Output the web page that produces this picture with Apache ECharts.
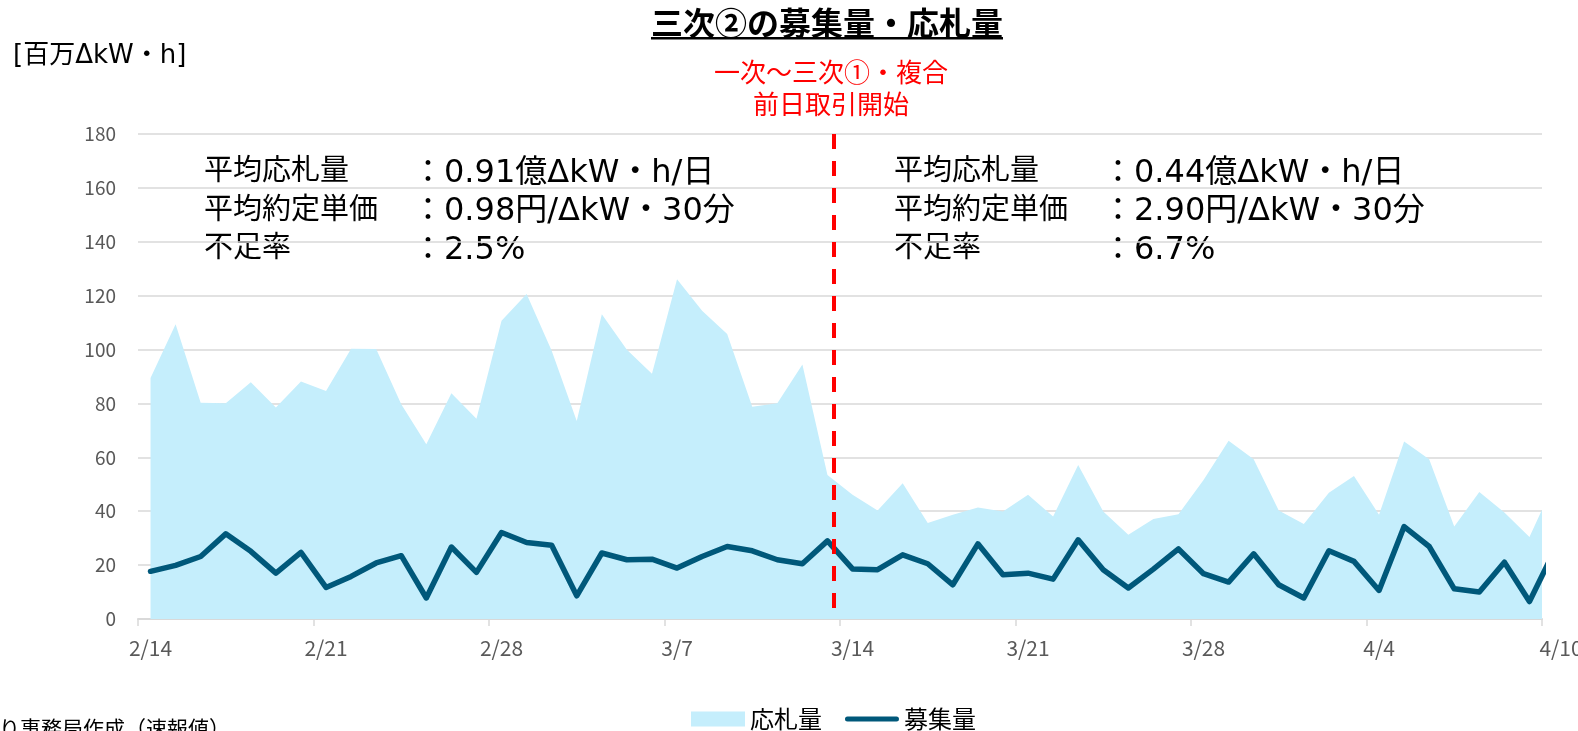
<!DOCTYPE html>
<html>
<head>
<meta charset="utf-8">
<script src="https://cdn.jsdelivr.net/npm/echarts@6/dist/echarts.min.js"></script>
<style>
  html, body { margin: 0; padding: 0; background: #fff; }
  #chart { width: 1578px; height: 731px; }
</style>
</head>
<body>
<div id="chart"></div>
<script>
  var FONT = "'Noto Sans CJK JP', 'Noto Sans', sans-serif";
  var WIDE = "'DejaVu Sans', 'Noto Sans CJK JP', sans-serif";

  // daily dates, 2/14 - 4/11 (the last one is cut off by the plot edge)
  var dates = [
    '2/14', '2/15', '2/16', '2/17', '2/18', '2/19', '2/20', '2/21', '2/22', '2/23', '2/24', '2/25', '2/26', '2/27', '2/28',
    '3/1', '3/2', '3/3', '3/4', '3/5', '3/6', '3/7', '3/8', '3/9', '3/10', '3/11', '3/12', '3/13', '3/14', '3/15',
    '3/16', '3/17', '3/18', '3/19', '3/20', '3/21', '3/22', '3/23', '3/24', '3/25', '3/26', '3/27', '3/28', '3/29',
    '3/30', '3/31', '4/1', '4/2', '4/3', '4/4', '4/5', '4/6', '4/7', '4/8', '4/9', '4/10', '4/11'
  ];

  // 応札量 [百万ΔkW・h]
  var bidVolume = [
    89.4, 109.4, 80.3, 80.1, 87.9, 78.5, 88.1, 84.6, 100.3, 100.2, 79.7, 64.9, 83.8, 74.3,
    110.7, 120.6, 99.6, 73.5, 113.1, 99.9, 91.0, 126.1, 114.4, 105.8, 78.8, 80.1, 94.5, 53.4,
    46.1, 40.3, 50.4, 35.6, 38.7, 41.4, 39.9, 46.1, 38.0, 57.2, 39.9, 31.3, 37.1, 38.9,
    51.6, 66.2, 59.3, 40.3, 35.3, 46.9, 53.1, 38.7, 65.9, 59.3, 34.3, 47.1, 39.5, 30.4, 50.7
  ];

  // 募集量 [百万ΔkW・h]
  var recruitVolume = [
    17.7, 19.9, 23.2, 31.6, 25.1, 17.0, 24.7, 11.7, 15.8, 20.8, 23.5, 7.8, 26.7, 17.3,
    32.1, 28.4, 27.4, 8.6, 24.5, 22.0, 22.2, 18.9, 23.2, 26.9, 25.3, 22.0, 20.5, 29.0,
    18.6, 18.3, 23.8, 20.5, 12.7, 27.9, 16.4, 17.0, 14.8, 29.4, 18.3, 11.5, 18.5, 26.0,
    16.8, 13.7, 24.2, 12.7, 7.8, 25.3, 21.4, 10.6, 34.3, 26.9, 11.2, 10.0, 21.1, 6.5, 25.5
  ];

  // weekly labels (index into dates) and the closing label of the axis
  var labelDays = [0, 7, 14, 21, 28, 35, 42, 49];
  var lastLabel = '4/10';

  // 一次～三次①・複合 前日取引開始 (just before 3/14)
  var switchDay = 27.25;

  var statNames = ['平均応札量', '平均約定単価', '不足率'];
  var statsBefore = ['：0.91億ΔkW・h/日', '：0.98円/ΔkW・30分', '：2.5%'];
  var statsAfter = ['：0.44億ΔkW・h/日', '：2.90円/ΔkW・30分', '：6.7%'];

  function toPairs(values) {
    return values.map(function (v, i) { return [i, v]; });
  }

  function statBox(x, width, values) {
    return {
      type: 'group',
      z: 10,
      children: [
        { type: 'rect', shape: { x: x, y: 143, width: width, height: 125 }, style: { fill: '#fff' } },
        {
          type: 'text', x: x + 18, y: 150,
          style: { text: statNames.join('\n'), font: '29px ' + FONT, fill: '#000', lineHeight: 38.5 }
        },
        {
          type: 'text', x: x + 226, y: 154,
          style: { text: values.join('\n'), font: '32px ' + WIDE, fill: '#000', lineHeight: 38.5 }
        }
      ]
    };
  }

  var chart = echarts.init(document.getElementById('chart'));
  var n = bidVolume.length - 1;   // visible days
  var tickDays = [];
  for (var t = -0.5; t <= n; t += 7) tickDays.push(t);

  var option = {
    animation: false,
    grid: { left: 138, right: 36, top: 134, bottom: 112, outerBoundsMode: 'none' },
    legend: {
      left: 691,
      top: 707,
      padding: 0,
      itemWidth: 54,
      itemHeight: 15,
      itemGap: 23,
      textStyle: { fontFamily: FONT, fontSize: 24, color: '#000' },
      data: [
        { name: '応札量', icon: 'rect' },
        { name: '募集量', icon: 'path://M2.5,0 L51.5,0 A2.5,2.5 0 0 1 51.5,5 L2.5,5 A2.5,2.5 0 0 1 2.5,0 Z' }
      ]
    },
    xAxis: {
      type: 'value',
      min: -0.5,
      max: n - 0.5,
      splitLine: { show: false },
      axisLine: { lineStyle: { color: '#D9D9D9', width: 2 } },
      axisTick: { customValues: tickDays, length: 7, lineStyle: { color: '#D9D9D9', width: 1.5 } },
      axisLabel: {
        customValues: labelDays.concat([n - 0.5]),
        margin: 19,
        fontFamily: FONT,
        fontSize: 21,
        color: '#595959',
        formatter: function (v) {
          return v > n - 1 ? '{last|' + lastLabel + '}' : dates[v];
        },
        rich: { last: { fontFamily: FONT, fontSize: 21, color: '#595959', padding: [0, 0, 0, 38] } }
      }
    },
    yAxis: {
      type: 'value',
      min: 0,
      max: 180,
      interval: 20,
      axisLine: { show: false },
      axisTick: { show: false },
      axisLabel: { margin: 22, fontFamily: FONT, fontSize: 19, color: '#595959' },
      splitLine: { lineStyle: { color: '#D9D9D9', width: 1.5 } }
    },
    series: [
      {
        name: '応札量',
        type: 'line',
        data: toPairs(bidVolume),
        symbol: 'none',
        z: 1,
        itemStyle: { color: '#C5EEFC' },
        lineStyle: { width: 0 },
        areaStyle: { color: '#C5EEFC', opacity: 1 }
      },
      {
        name: '募集量',
        type: 'line',
        data: toPairs(recruitVolume),
        symbol: 'none',
        z: 3,
        itemStyle: { color: '#00587A' },
        lineStyle: { color: '#00587A', width: 5.5, join: 'round', cap: 'round' },
        markLine: {
          silent: true,
          symbol: 'none',
          z: 5,
          label: { show: false },
          lineStyle: { color: '#FF0000', width: 4, type: [15, 12] },
          data: [[{ coord: [switchDay, 180] }, { coord: [switchDay, 2.3] }]]
        }
      }
    ],
    graphic: [
      {
        type: 'text', x: 827, y: 23,
        style: { text: '三次②の募集量・応札量', font: 'bold 32px ' + FONT, fill: '#000', align: 'center', verticalAlign: 'middle' }
      },
      { type: 'rect', shape: { x: 651, y: 37, width: 352, height: 2.5 }, style: { fill: '#000' } },
      {
        type: 'text', x: 831, y: 88,
        style: { text: '一次～三次①・複合\n前日取引開始', font: '26px ' + FONT, fill: '#FF0000', align: 'center', verticalAlign: 'middle', lineHeight: 32 }
      },
      {
        type: 'text', x: 13, y: 56,
        style: { text: '[百万ΔkW・h]', font: '26px ' + WIDE, fill: '#000', verticalAlign: 'middle' }
      },
      {
        type: 'text', x: 230, y: 728,
        style: { text: 'より事務局作成（速報値）', font: '21px ' + FONT, fill: '#000', align: 'right', verticalAlign: 'middle' }
      },
      statBox(186, 578, statsBefore),
      statBox(876, 570, statsAfter)
    ]
  };

  chart.setOption(option);
</script>
</body>
</html>
